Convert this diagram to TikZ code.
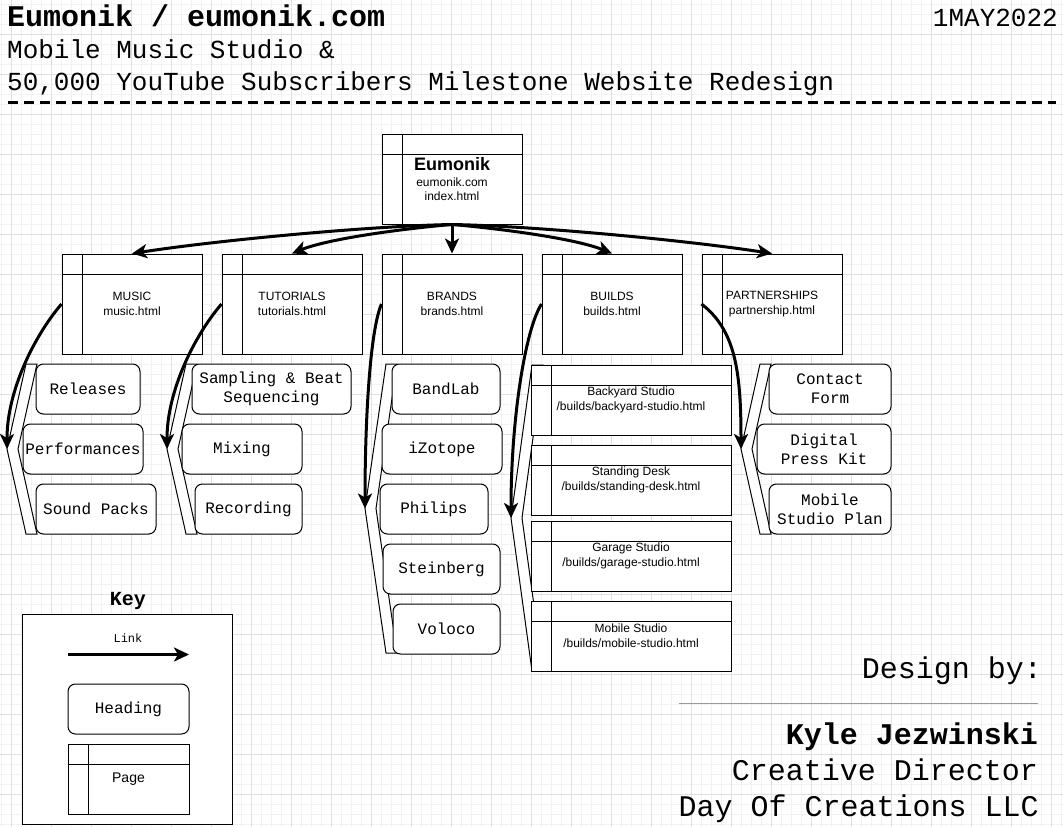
\documentclass[tikz,border=0pt]{standalone}
\usepackage{fontspec}
\setmainfont{Liberation Sans}
\newfontfamily\monof{Liberation Mono}
\newfontfamily\sansf{Liberation Sans}
\usetikzlibrary{arrows.meta}
\tikzset{
  gridminor/.style={black!5, line width=1pt},
  gridmajor/.style={black!12, line width=1pt},
  pagebox/.style={draw, fill=white, line width=1pt, inner sep=0pt, align=center,
    path picture={
      \draw[line width=1pt] ([xshift=20pt]path picture bounding box.north west) -- ([xshift=20pt]path picture bounding box.south west);
      \draw[line width=1pt] ([yshift=-20pt]path picture bounding box.north west) -- ([yshift=-20pt]path picture bounding box.north east);
    }},
  rootfont/.style={font=\sansf\fontsize{12}{14}\selectfont},
  lvtwo/.style={font=\sansf\fontsize{12}{14.5}\selectfont},
  bld/.style={font=\sansf\fontsize{12}{15}\selectfont},
  keyp/.style={font=\sansf\fontsize{14}{16}\selectfont},
  headbox/.style={draw, fill=white, line width=1pt, rounded corners=7.5pt, inner sep=0pt, align=center,
    font=\monof\fontsize{16}{19.2}\selectfont},
  link/.style={line width=3pt, -{Stealth[length=15pt,width=14pt,inset=4pt]}},
  chevline/.style={line width=1pt, fill=white},
  txt/.style={inner sep=0pt},
}
\newcommand\pagenode[7]{\node[pagebox, #6, minimum width={(#4-#2)*1pt}, minimum height={(#5-#3)*1pt}] (#1) at ({(#2+#4)/2},{(#3+#5)/2}) {#7};}
\newcommand\headnode[6]{\node[headbox, minimum width={(#4-#2)*1pt}, minimum height={(#5-#3)*1pt}] (#1) at ({(#2+#4)/2},{(#3+#5)/2}) {#6};}
% apex x, outer top x, inner top x, top y, bottom y
\newcommand\chevshape[5]{\draw[chevline] (#2,#4) -- (#3,#4) -- ({#1+#3-#2},{(#4+#5)/2}) -- (#3,#5) -- (#2,#5) -- (#1,{(#4+#5)/2}) -- cycle;}
\begin{document}
\begin{tikzpicture}[x=1pt,y=-1pt]
\useasboundingbox (0,0) rectangle (1063,827);
\fill[white] (0,0) rectangle (1063,827);
% grid
\foreach \i in {0,...,106} \draw[gridminor] ({1.5+10*\i},0) -- ({1.5+10*\i},827);
\foreach \j in {0,...,82} \draw[gridminor] (0,{4+10*\j}) -- (1063,{4+10*\j});
\foreach \i in {0,...,26} \draw[gridmajor] ({11.5+40*\i},0) -- ({11.5+40*\i},827);
\foreach \j in {0,...,19} \draw[gridmajor] (0,{34+40*\j}) -- (1063,{34+40*\j});

% header
\node[txt, anchor=base west, font=\monof\bfseries\fontsize{30}{36}\selectfont] (title) at (7,27) {Eumonik / eumonik.com};
\node[txt, anchor=base east, font=\monof\fontsize{26}{30}\selectfont] (date) at (1058,27) {1MAY2022};
\node[txt, anchor=base west, font=\monof\fontsize{26}{30}\selectfont] (sub1) at (7,58) {Mobile Music Studio \&};
\node[txt, anchor=base west, font=\monof\fontsize{26}{30}\selectfont] (sub2) at (7,90) {50,000 YouTube Subscribers Milestone Website Redesign};
\draw[line width=3pt, dash pattern=on 10pt off 6pt] (8,102.5) -- (1056,102.5);

% brackets
\chevshape{7}{26}{37}{364}{534}
\chevshape{167}{186}{197}{364}{534}
\chevshape{365}{386}{397}{364}{653}
\chevshape{511}{532}{543}{365}{671}
\chevshape{741}{760}{771}{364}{534}
\coordinate (musApex) at (7,449);
\coordinate (tutApex) at (167,449);
\coordinate (brApex) at (365,508.5);
\coordinate (bdApex) at (511,518);
\coordinate (ptApex) at (741,449);

% pages
\pagenode{root}{382}{134}{522}{224}{rootfont}{{\fontsize{18}{20}\selectfont\bfseries Eumonik}\\[2pt]eumonik.com\\index.html}
\pagenode{music}{62}{254}{202}{354}{lvtwo}{MUSIC\\music.html}
\pagenode{tut}{222}{254}{362}{354}{lvtwo}{TUTORIALS\\tutorials.html}
\pagenode{brands}{382}{254}{522}{354}{lvtwo}{BRANDS\\brands.html}
\pagenode{builds}{542}{254}{682}{354}{lvtwo}{BUILDS\\builds.html}
\pagenode{part}{702}{254}{842}{354}{lvtwo}{PARTNERSHIPS\\partnership.html}

\pagenode{backyard}{531}{365}{731}{435}{bld}{Backyard Studio\\/builds/backyard-studio.html}
\pagenode{standing}{531}{445}{731}{515}{bld}{Standing Desk\\/builds/standing-desk.html}
\pagenode{garage}{531}{521}{731}{591}{bld}{Garage Studio\\/builds/garage-studio.html}
\pagenode{mobile}{531}{601}{731}{671}{bld}{Mobile Studio\\/builds/mobile-studio.html}

% headings
\headnode{rel}{36}{364}{140}{414}{Releases}
\headnode{perf}{23}{424}{143}{474}{Performances}
\headnode{sound}{36}{484}{156}{534}{Sound Packs}

\headnode{samp}{192}{364}{351}{414}{Sampling \& Beat\\Sequencing}
\headnode{mix}{182}{424}{302}{474}{Mixing}
\headnode{recd}{195}{484}{302}{534}{Recording}

\headnode{bandlab}{392}{364}{500}{414}{BandLab}
\headnode{izotope}{382}{424}{502}{474}{iZotope}
\headnode{philips}{380}{484}{488}{534}{Philips}
\headnode{steinberg}{383}{544}{500}{594}{Steinberg}
\headnode{voloco}{393}{604}{500}{654}{Voloco}

\headnode{contact}{769}{364}{891}{414}{Contact\\Form}
\headnode{press}{757}{424}{891}{474}{Digital\\Press Kit}
\headnode{plan}{769}{484}{891}{534}{Mobile\\Studio Plan}

% links from root
\draw[link] (root.south) .. controls (370,226) and (220,240) .. (music.north);
\draw[link] (root.south) .. controls (410,228) and (330,238) .. (tut.north);
\draw[link] (root.south) -- (brands.north);
\draw[link] (root.south) .. controls (494,228) and (574,238) .. (builds.north);
\draw[link] (root.south) .. controls (534,226) and (684,240) .. (part.north);

% links to sub lists
\draw[link] (music.west) .. controls (35,335) and (7,390) .. (musApex);
\draw[link] (tut.west) .. controls (195,335) and (167,390) .. (tutApex);
\draw[link] (brands.west) .. controls (370,330) and (365,420) .. (brApex);
\draw[link] (builds.west) .. controls (525,330) and (511,420) .. (bdApex);
\draw[link] (part.west) .. controls (735,330) and (741,370) .. (ptApex);

% key
\node[txt, anchor=base, font=\monof\bfseries\fontsize{20}{24}\selectfont] (keytitle) at (128,605.5) {Key};
\node[draw, line width=1pt, fill=white, minimum width=210pt, minimum height=210pt, inner sep=0pt] (key) at (127,719) {};
\node[txt, anchor=base, font=\monof\fontsize{12}{14}\selectfont] (linklbl) at (128,642.5) {Link};
\coordinate (ks) at (68,654.5);
\coordinate (ke) at (189,654.5);
\draw[link] (ks) -- (ke);
\headnode{kheading}{68}{684}{189}{734}{Heading}
\pagenode{kpage}{68}{744}{189}{814}{keyp}{Page}

% design by
\node[txt, anchor=base east, font=\monof\fontsize{30}{36}\selectfont] (design) at (1042,678) {Design by:};
\draw[black!40, line width=1pt] (679,703.5) -- (1038,703.5);
\node[txt, anchor=base east, font=\monof\bfseries\fontsize{30}{36}\selectfont] (kyle) at (1038,744) {Kyle Jezwinski};
\node[txt, anchor=base east, font=\monof\fontsize{30}{36}\selectfont] (cdir) at (1038,780) {Creative Director};
\node[txt, anchor=base east, font=\monof\fontsize{30}{36}\selectfont] (doc) at (1039,816.5) {Day Of Creations LLC};
\end{tikzpicture}
\end{document}
